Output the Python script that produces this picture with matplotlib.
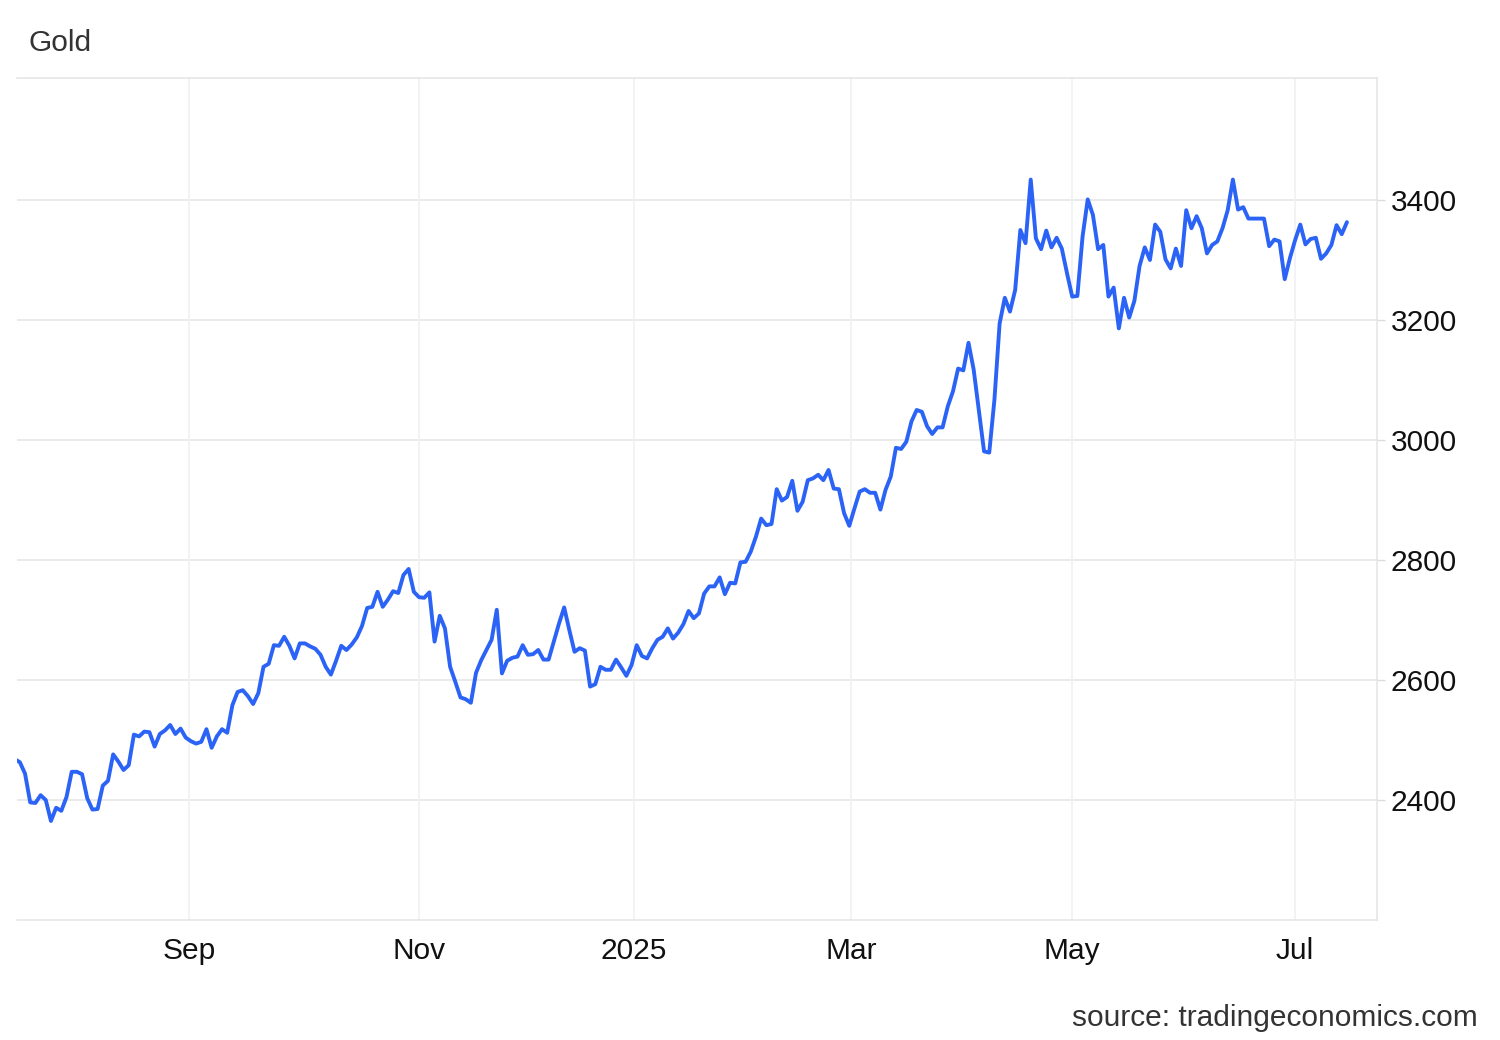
import numpy as np
import pandas as pd
import matplotlib
matplotlib.use("Agg")
import matplotlib.pyplot as plt

plt.rcParams['font.family'] = ['Liberation Sans', 'DejaVu Sans']

# ---- data -------------------------------------------------------------
start_date = "2024-07-16"
end_date = "2025-07-15"
holidays = ["2024-12-25", "2025-01-01", "2025-04-18"]

prices = [
    2468, 2463, 2444, 2396, 2395, 2408, 2400, 2365, 2387, 2382,
    2405, 2447, 2447, 2443, 2403, 2384, 2385, 2424, 2432, 2476,
    2464, 2450, 2458, 2509, 2506, 2514, 2513, 2489, 2510, 2516,
    2525, 2510, 2519, 2504, 2498, 2494, 2497, 2518, 2487, 2506,
    2518, 2512, 2558, 2580, 2583, 2573, 2560, 2578, 2622, 2627,
    2658, 2657, 2672, 2657, 2636, 2661, 2661, 2656, 2652, 2642,
    2622, 2609, 2632, 2657, 2650, 2659, 2671, 2690, 2720, 2722,
    2747, 2722, 2734, 2748, 2745, 2775, 2785, 2747, 2738, 2737,
    2746, 2664, 2707, 2686, 2622, 2597, 2571, 2568, 2562, 2612,
    2633, 2650, 2667, 2717, 2611, 2632, 2637, 2639, 2658, 2642,
    2643, 2650, 2634, 2634, 2664, 2694, 2721, 2683, 2647, 2653,
    2649, 2589, 2593, 2622, 2617, 2617, 2634, 2621, 2607, 2625,
    2658, 2640, 2636, 2653, 2667, 2672, 2686, 2669, 2679, 2693,
    2715, 2703, 2711, 2744, 2756, 2756, 2771, 2743, 2762, 2761,
    2796, 2797, 2814, 2839, 2869, 2858, 2860, 2918, 2899, 2905,
    2932, 2882, 2897, 2933, 2936, 2942, 2933, 2950, 2919, 2918,
    2878, 2857, 2886, 2914, 2918, 2912, 2912, 2884, 2917, 2939,
    2987, 2985, 2997, 3031, 3050, 3047, 3023, 3010, 3021, 3021,
    3056, 3081, 3119, 3116, 3162, 3117, 3049, 2981, 2979, 3067,
    3194, 3237, 3214, 3250, 3350, 3328, 3434, 3336, 3318, 3349,
    3321, 3337, 3319, 3278, 3239, 3240, 3339, 3401, 3375, 3318,
    3325, 3239, 3254, 3186, 3237, 3204, 3232, 3290, 3321, 3300,
    3359, 3347, 3301, 3286, 3319, 3290, 3383, 3353, 3373, 3353,
    3311, 3325, 3331, 3353, 3383, 3434, 3384, 3388, 3369, 3369,
    3369, 3369, 3323, 3334, 3331, 3268, 3303, 3333, 3359, 3326,
    3335, 3337, 3302, 3311, 3325, 3358, 3343, 3363,
]

month_ticks = ["2024-09-01", "2024-11-01", "2025-01-01", "2025-03-01",
               "2025-05-01", "2025-07-01"]
month_labels = ["Sep", "Nov", "2025", "Mar", "May", "Jul"]
y_ticks = [2400, 2600, 2800, 3000, 3200, 3400]

title = "Gold"
source = "source: tradingeconomics.com"

# ---- build ------------------------------------------------------------
dates = pd.bdate_range(start_date, end_date)
dates = dates[~dates.isin(pd.to_datetime(holidays))]
n = min(len(dates), len(prices))
dates = dates[:n]
vals = np.array(prices[:n], dtype=float)
idx = np.arange(n)

day_num = dates.values.astype("datetime64[D]").astype(float)
tick_days = pd.to_datetime(month_ticks).values.astype("datetime64[D]").astype(float)
tick_pos = np.interp(tick_days, day_num, idx)

fig = plt.figure(figsize=(15, 10.4), dpi=100)
ax = fig.add_axes([17 / 1500, 1 - 920 / 1040, (1377 - 17) / 1500, (920 - 78) / 1040])

line_color = "#2b63f6"
ax.plot(idx, vals, color=line_color, lw=2.8, solid_joinstyle="round",
        solid_capstyle="round", zorder=3)

ax.set_xlim(0.45, 262.8)
ax.set_ylim(2200, 3603.3)

ax.set_yticks(y_ticks)
ax.set_yticklabels([str(v) for v in y_ticks])
ax.set_xticks(tick_pos)
ax.set_xticklabels(month_labels)

ax.yaxis.tick_right()
ax.tick_params(axis="y", which="major", length=6, width=1, color="#dcdcdc",
               pad=4, labelsize=21.5, labelcolor="#111111")
ax.tick_params(axis="x", which="major", length=0, pad=12, labelsize=21.5,
               labelcolor="#111111")

for y in y_ticks:
    ax.axhline(y, color="#e4e4e4", lw=1.1, zorder=1)
for x in tick_pos:
    ax.axvline(x, color="#eef0f3", lw=1.1, zorder=1)

ax.spines["left"].set_visible(False)
for s in ["top", "bottom", "right"]:
    ax.spines[s].set_color("#e4e4e4")
    ax.spines[s].set_linewidth(1.1)

fig.text(29 / 1500, 1 - 51 / 1040, title, fontsize=21.5, color="#333333",
         ha="left", va="baseline")
fig.text(1478 / 1500, 1 - 1026 / 1040, source, fontsize=21.5, color="#333333",
         ha="right", va="baseline")

fig.savefig("out.png", dpi=100, facecolor="white")
